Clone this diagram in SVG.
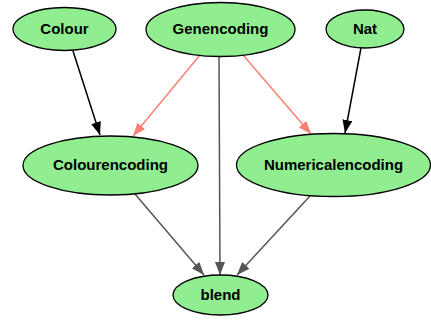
<svg xmlns="http://www.w3.org/2000/svg" width="431" height="322" viewBox="0 0 431 322">
<defs>
<style>
.node ellipse{fill:#90ee90;stroke:#000;stroke-width:1.3}
.node text{font-family:"Liberation Sans",Arial,sans-serif;font-weight:bold;font-size:15px;text-anchor:middle;fill:#000}
.e{fill:none;stroke-width:1.5}
.blk{stroke:#000}
.sal{stroke:#fa8072}
.gry{stroke:#555}
</style>
<marker id="aBlk" markerUnits="userSpaceOnUse" markerWidth="14" markerHeight="12" refX="13" refY="6" orient="auto"><path d="M0,1 L13,6 L0,11 Z" fill="#000"/></marker>
<marker id="aSal" markerUnits="userSpaceOnUse" markerWidth="14" markerHeight="12" refX="13" refY="6" orient="auto"><path d="M0,1 L13,6 L0,11 Z" fill="#fa8072"/></marker>
<marker id="aGry" markerUnits="userSpaceOnUse" markerWidth="14" markerHeight="12" refX="13" refY="6" orient="auto"><path d="M0,1 L13,6 L0,11 Z" fill="#555"/></marker>
</defs>
<g id="edges">
<line class="e blk" x1="73" y1="51" x2="100" y2="135" marker-end="url(#aBlk)"/>
<line class="e sal" x1="200" y1="55" x2="133" y2="136" marker-end="url(#aSal)"/>
<line class="e gry" x1="219" y1="57" x2="220" y2="275" marker-end="url(#aGry)"/>
<line class="e sal" x1="243" y1="55" x2="311" y2="134" marker-end="url(#aSal)"/>
<line class="e blk" x1="361" y1="48" x2="345" y2="133" marker-end="url(#aBlk)"/>
<line class="e gry" x1="135" y1="194" x2="204" y2="275" marker-end="url(#aGry)"/>
<line class="e gry" x1="310" y1="196" x2="237" y2="275" marker-end="url(#aGry)"/>
</g>
<g id="Colour" class="node"><ellipse cx="64.5" cy="29" rx="51.5" ry="21.5"/><text x="64.5" y="34">Colour</text></g>
<g id="Genencoding" class="node"><ellipse cx="220.5" cy="29.5" rx="74.5" ry="27"/><text x="220.5" y="34">Genencoding</text></g>
<g id="Nat" class="node"><ellipse cx="365" cy="29" rx="39" ry="19"/><text x="365" y="34">Nat</text></g>
<g id="Colourencoding" class="node"><ellipse cx="110.5" cy="165.5" rx="87.5" ry="29.5"/><text x="110.5" y="170">Colourencoding</text></g>
<g id="Numericalencoding" class="node"><ellipse cx="333.5" cy="165" rx="97" ry="31.5"/><text x="333.5" y="170">Numericalencoding</text></g>
<g id="blend" class="node"><ellipse cx="220.5" cy="295" rx="47.5" ry="20"/><text x="220.5" y="300">blend</text></g>
</svg>
